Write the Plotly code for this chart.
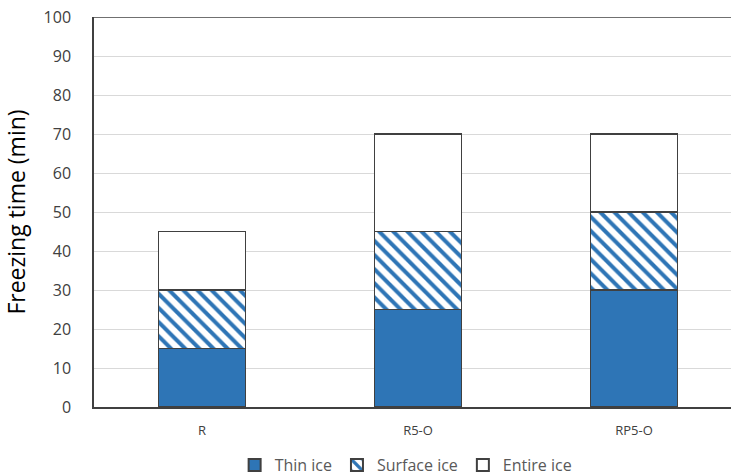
import plotly.graph_objects as go

categories = ["R", "R5-O", "RP5-O"]
thin_ice = [15, 25, 30]
surface_ice = [15, 20, 20]
entire_ice = [15, 25, 20]

blue = "#2E75B6"
edge = "#404040"

fig = go.Figure()
fig.add_trace(go.Bar(
    x=categories, y=thin_ice, name="Thin ice",
    marker=dict(color=blue, line=dict(color=edge, width=1.3)),
    width=0.4,
))
fig.add_trace(go.Bar(
    x=categories, y=surface_ice, name="Surface ice",
    marker=dict(color="white", line=dict(color=edge, width=1.3),
                pattern=dict(shape="\\", fgcolor=blue, bgcolor="white",
                             size=10, solidity=0.4, fillmode="replace")),
    width=0.4,
))
fig.add_trace(go.Bar(
    x=categories, y=entire_ice, name="Entire ice",
    marker=dict(color="white", line=dict(color=edge, width=1.3)),
    width=0.4,
))

fig.add_shape(type="line", xref="paper", yref="y", x0=0, x1=1, y0=100, y1=100,
              line=dict(color=edge, width=1.5), layer="above")

fig.update_layout(
    barmode="stack",
    width=731, height=476,
    margin=dict(l=94, r=0, t=17, b=69, autoexpand=False),
    paper_bgcolor="white", plot_bgcolor="white",
    font=dict(family="Open Sans, DejaVu Sans, sans-serif", color="#404040"),
    showlegend=True,
    legend=dict(orientation="h", x=0.49, xanchor="center", y=-0.149, yanchor="middle",
                font=dict(size=16, color="#595959"), itemsizing="constant",
                traceorder="normal", itemwidth=30),
    xaxis=dict(range=[-0.5, 2.449], showline=True, linecolor=edge, linewidth=1.5,
               ticks="", tickfont=dict(size=13, color="#404040"), showgrid=False,
               automargin=False, ticklabelstandoff=11),
    yaxis=dict(range=[0, 100], dtick=10, showline=True, linecolor=edge, linewidth=1.5,
               gridcolor="#D9D9D9", gridwidth=1, ticks="", zeroline=False,
               automargin=False, ticklabelstandoff=18, ticklabeloverflow="allow",
               tickfont=dict(size=16, color="#404040"),
               title=dict(text="Freezing time (min)", font=dict(size=23, color="black"),
                          standoff=15)),
)

fig.write_html("out.html", config={"displayModeBar": False},
               post_script="document.body.style.margin='0';document.body.style.overflow='hidden';")
